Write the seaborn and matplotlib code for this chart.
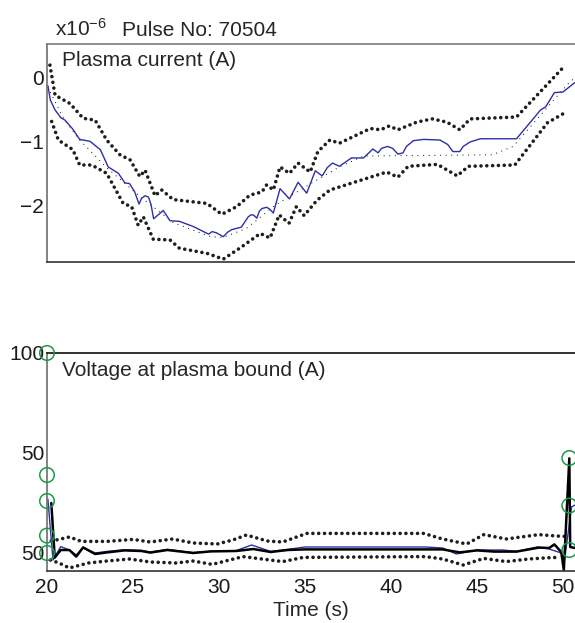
import matplotlib
matplotlib.use("Agg")
import matplotlib.pyplot as plt
import seaborn as sns

# ---- plasma current (x1e-6 A) ----
ip_t = [20.05, 20.2, 20.47, 20.8, 21.05, 21.5, 21.9, 22.5, 23.1, 23.56, 24.15, 24.53, 24.8,
        25.1, 25.35, 25.5, 25.7, 25.9, 26.05, 26.2, 26.76, 27.15, 27.7, 28.5, 29.4, 29.6, 29.86,
        30.25, 30.5, 30.74, 31.3, 31.5, 31.7, 31.85, 32.0, 32.2, 32.35, 32.5, 32.77, 32.95,
        33.16, 33.55, 34.1, 34.6, 35.1, 35.6, 36.0, 36.3, 36.6, 37.0, 37.7, 38.4, 38.95, 39.25,
        39.45, 39.8, 40.1, 40.4, 40.7, 40.9, 41.3, 41.9, 42.85, 43.3, 43.6, 44.0, 44.2, 44.6,
        45.2, 47.3, 48.7, 49.0, 49.5, 50.0, 50.7]
ip_v = [-0.12, -0.35, -0.50, -0.62, -0.66, -0.80, -0.96, -0.99, -1.12, -1.39, -1.49, -1.64, -1.65,
        -1.78, -1.97, -1.88, -1.84, -1.86, -1.98, -2.20, -2.07, -2.23, -2.24, -2.32, -2.44, -2.40, -2.42,
        -2.48, -2.41, -2.37, -2.33, -2.25, -2.17, -2.14, -2.14, -2.19, -2.08, -2.04, -2.02, -2.05,
        -2.11, -1.73, -1.89, -1.63, -1.80, -1.45, -1.53, -1.40, -1.33, -1.38, -1.25, -1.25, -1.11, -1.17,
        -1.10, -1.07, -1.10, -1.19, -1.17, -1.07, -0.98, -0.96, -0.97, -1.04, -1.15, -1.15, -1.07, -1.00,
        -0.95, -0.95, -0.50, -0.45, -0.23, -0.22, -0.07]

ip_mean_t = [20.05, 21.0, 21.9, 23.5, 25.4, 27.34, 29.5, 30.25, 31.6, 33.16, 33.55, 35.4,
             37.0, 38.4, 45.9, 47.1, 48.7, 50.4, 50.7]
ip_mean_v = [-0.15, -0.65, -0.97, -1.41, -1.85, -2.26, -2.48, -2.49, -2.35, -2.01, -1.94, -1.64,
             -1.39, -1.22, -1.20, -1.07, -0.58, -0.06, 0.0]

ip_hi_t = [20.17, 20.47, 21.34, 22.1, 22.8, 23.47, 24.24, 24.83, 25.4, 25.7, 26.28, 26.67, 27.34,
           29.3, 30.16, 31.03, 31.8, 32.5, 32.77, 33.16, 33.55, 34.1, 34.6, 35.3, 35.75, 36.45,
           37.0, 38.8, 39.4, 39.9, 40.4, 41.5, 42.4, 43.25, 44.0, 44.6, 47.3, 50.0]
ip_hi_v = [0.20, -0.27, -0.40, -0.63, -0.66, -0.97, -1.20, -1.28, -1.54, -1.44, -1.84, -1.75, -1.90,
           -1.96, -2.13, -2.01, -1.83, -1.78, -1.67, -1.75, -1.39, -1.49, -1.33, -1.47, -1.15, -0.97,
           -1.02, -0.79, -0.81, -0.75, -0.81, -0.69, -0.64, -0.69, -0.81, -0.64, -0.61, 0.16]

ip_lo_t = [20.27, 20.66, 21.5, 21.9, 22.6, 23.47, 24.43, 24.92, 25.3, 25.6, 26.18, 27.15, 27.7,
           29.3, 30.25, 31.2, 32.4, 32.97, 33.5, 34.07, 34.5, 34.95, 35.7, 36.45, 39.75, 40.4,
           41.0, 42.7, 43.85, 44.5, 47.2, 49.1, 50.2]
ip_lo_v = [-0.68, -0.97, -1.12, -1.36, -1.36, -1.49, -1.96, -2.01, -2.30, -2.17, -2.52, -2.53, -2.66,
           -2.74, -2.83, -2.66, -2.43, -2.50, -2.14, -2.27, -2.01, -2.15, -1.91, -1.75, -1.47, -1.55,
           -1.38, -1.35, -1.53, -1.38, -1.36, -0.70, -0.53]

# ---- voltage at plasma boundary ----
vb_t = [20.25, 20.45, 20.8, 21.3, 21.7, 22.1, 22.8, 23.5, 24.5, 25.5, 26.0, 27.0, 28.5, 29.5,
        31.0, 32.0, 33.0, 34.0, 35.0, 43.0, 44.0, 45.0, 46.0, 47.3, 48.6, 49.2, 49.5, 49.9,
        50.05, 50.37, 50.42, 50.7]
vb_v = [25.0, -2.3, 1.5, 1.5, -1.8, 2.8, -0.5, 0.3, 1.3, 1.0, 0.2, 1.5, 0.0, 0.8,
        1.0, 2.0, 0.5, 1.5, 1.8, 1.8, 0.3, 1.3, 0.7, 0.7, 2.7, 2.5, 4.3, 0.5,
        -8.5, 47.3, 3.0, 2.5]

vb_fit_t = [20.05, 20.35, 20.8, 21.3, 21.7, 22.1, 22.8, 23.5, 24.5, 25.5, 26.0, 27.0, 28.5,
            29.5, 31.0, 31.9, 33.0, 34.0, 35.0, 42.0, 43.0, 43.8, 45.0, 46.5, 47.3, 48.5,
            49.2, 49.9, 50.1, 50.3, 50.5, 50.7]
vb_fit_v = [27.0, -3.5, 3.2, 1.5, -1.0, 2.5, 0.0, 0.8, 1.6, 1.3, 0.5, 1.8, 0.2, 0.8,
            1.2, 4.0, 0.8, 1.8, 3.0, 3.0, 2.5, -0.5, 1.5, 1.5, 0.8, 3.0,
            2.0, 0.0, -3.0, 10.0, 23.0, 24.0]

vb_hi_t = [20.25, 20.8, 21.3, 22.0, 23.5, 25.0, 26.0, 27.3, 28.5, 29.9, 30.8, 31.6, 32.8, 33.7,
           35.1, 41.9, 43.0, 44.4, 45.4, 46.7, 48.6, 49.6, 50.1]
vb_hi_v = [6.0, 7.0, 8.0, 5.8, 5.8, 6.8, 5.5, 7.0, 5.0, 4.5, 6.5, 9.0, 6.0, 5.5,
           9.8, 9.8, 7.0, 4.5, 9.2, 7.0, 9.2, 8.5, 8.3]

vb_lo_t = [20.2, 20.7, 21.3, 22.4, 23.5, 24.8, 26.0, 27.5, 28.5, 29.6, 31.4, 32.5, 33.7, 34.9,
           42.0, 43.0, 44.2, 45.4, 46.7, 48.0, 49.5, 49.8]
vb_lo_v = [-3.5, -5.0, -7.5, -5.0, -4.0, -3.0, -4.5, -5.0, -4.0, -5.7, -1.8, -3.0, -4.3, -2.2,
           -1.8, -3.0, -6.0, -2.7, -4.3, -3.0, -2.2, -3.0]

probe_t = [20.0, 20.0, 20.0, 20.0, 20.0, 50.37, 50.37, 50.37]
probe_v = [100.0, 39.0, 26.0, 8.7, 0.0, 47.5, 23.7, 1.5]

ip_ticks = [0, -1, -2]
ip_tick_labels = ["0", "\u22121", "\u22122"]
vb_ticks = [100, 50, 0]
vb_tick_labels = ["100", "50", "50"]
time_ticks = [20, 25, 30, 35, 40, 45, 50]

sns.set_theme(style="white")
plt.rcParams["font.family"] = ["Liberation Sans", "DejaVu Sans"]
plt.rcParams["mathtext.fontset"] = "custom"
plt.rcParams["mathtext.rm"] = "Liberation Sans"
plt.rcParams["mathtext.it"] = "Liberation Sans:italic"
plt.rcParams["axes.unicode_minus"] = True

FS = 15
BLUE = "#2e2fa6"
DOT = "#1e1e1e"
GREEN = "#1a9b4a"

fig = plt.figure(figsize=(5.75, 6.23), dpi=100)
ax1 = fig.add_axes([47 / 575, 1 - 262 / 623, 1 - 47 / 575, 218 / 623])
ax2 = fig.add_axes([47 / 575, 1 - 571 / 623, 1 - 47 / 575, 218 / 623])

band_style = dict(color=DOT, linewidth=2.6, dashes=[(0.01, 1.6)])


def draw(ax, t, v, **kw):
    dash = kw.pop("dashes", None)
    sns.lineplot(x=t, y=v, ax=ax, estimator=None, sort=False, legend=False, **kw)
    line = ax.get_lines()[-1]
    if dash is not None:
        line.set_dashes(dash[0])
        line.set_dash_capstyle("round")
    return line


# plasma current panel
draw(ax1, ip_hi_t, ip_hi_v, **band_style)
draw(ax1, ip_lo_t, ip_lo_v, **band_style)
draw(ax1, ip_mean_t, ip_mean_v, color=DOT, linewidth=0.9, dashes=[(0.01, 4.5)])
draw(ax1, ip_t, ip_v, color=BLUE, linewidth=1.0)

ax1.set_xlim(20, 50.7)
ax1.set_ylim(-2.875, 0.53)
ax1.set_xticks([])
ax1.set_yticks(ip_ticks)
ax1.set_yticklabels(ip_tick_labels)
fig.text(62 / 575, 1 - 61 / 623, "Plasma current (A)", fontsize=FS, va="center", ha="left")
fig.text(55 / 575, 1 - 36 / 623, r"x10$^{-6}$", fontsize=FS, va="baseline", ha="left")
fig.text(122 / 575, 1 - 36 / 623, "Pulse No: 70504", fontsize=FS, va="baseline", ha="left")

# boundary voltage panel
draw(ax2, vb_hi_t, vb_hi_v, **band_style)
draw(ax2, vb_lo_t, vb_lo_v, **band_style)
draw(ax2, vb_fit_t, vb_fit_v, color=BLUE, linewidth=1.0)
draw(ax2, vb_t, vb_v, color="black", linewidth=1.8)
sns.scatterplot(x=probe_t, y=probe_v, ax=ax2, s=110, facecolor="none",
                edgecolor=GREEN, linewidth=1.1, clip_on=False, zorder=5, legend=False)

ax2.set_xlim(20, 50.7)
ax2.set_ylim(-9, 100)
ax2.set_yticks(vb_ticks)
ax2.set_yticklabels(vb_tick_labels)
ax2.set_xticks(time_ticks)
ax2.set_xlabel("Time (s)", fontsize=FS, labelpad=3)
fig.text(62 / 575, 1 - 371 / 623, "Voltage at plasma bound (A)", fontsize=FS,
         va="center", ha="left")

for ax, top_col in ((ax1, "#7a7a7a"), (ax2, "#111111")):
    ax.set_facecolor("white")
    ax.spines["right"].set_visible(False)
    ax.spines["top"].set_color(top_col)
    ax.spines["left"].set_color("#6e6e6e")
    ax.spines["bottom"].set_color("#333333")
    for s in ("top", "left", "bottom"):
        ax.spines[s].set_linewidth(1.2)
    ax.tick_params(axis="both", direction="in", length=9, width=1.0, color="#555555",
                   labelsize=FS, labelcolor="#1a1a1a", pad=2)
    ax.tick_params(axis="x", pad=5)
    ax.set_ylabel("")
    ax.grid(False)

fig.savefig("out.png", dpi=100, facecolor="white")
